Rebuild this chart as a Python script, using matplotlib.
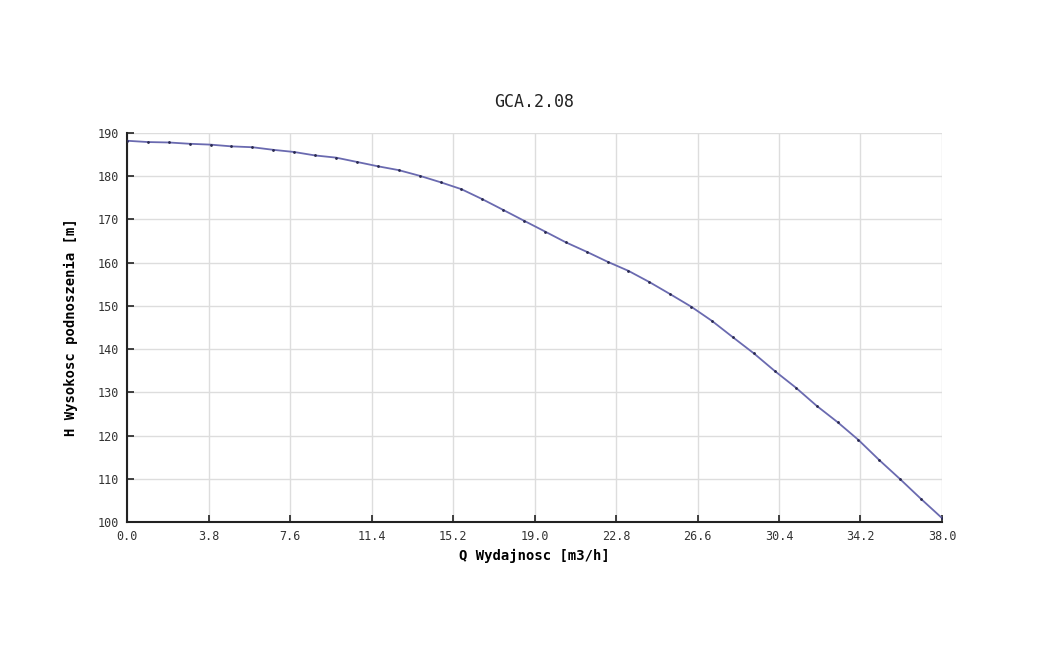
import matplotlib
matplotlib.use("Agg")
import matplotlib.pyplot as plt

q = [0.0, 0.97, 1.95, 2.92, 3.9, 4.87, 5.85, 6.82, 7.79, 8.77,
     9.74, 10.72, 11.69, 12.67, 13.64, 14.62, 15.59, 16.56, 17.54, 18.51,
     19.49, 20.46, 21.44, 22.41, 23.38, 24.36, 25.33, 26.31, 27.28, 28.26,
     29.23, 30.21, 31.18, 32.15, 33.13, 34.1, 35.08, 36.05, 37.03, 38.0]
h = [188.2, 187.9, 187.8, 187.5, 187.3, 186.9, 186.7, 186.1, 185.6, 184.8,
     184.3, 183.3, 182.3, 181.4, 180.1, 178.6, 177.0, 174.7, 172.2, 169.7,
     167.2, 164.7, 162.5, 160.2, 158.1, 155.5, 152.7, 149.8, 146.5, 142.7,
     139.0, 134.9, 131.1, 126.9, 123.1, 119.0, 114.3, 109.9, 105.3, 100.9]

xticks = [0.0, 3.8, 7.6, 11.4, 15.2, 19.0, 22.8, 26.6, 30.4, 34.2, 38.0]
yticks = [100, 110, 120, 130, 140, 150, 160, 170, 180, 190]

plt.rcParams['font.family'] = ['DejaVu Sans Mono']

fig = plt.figure(figsize=(10.62, 6.56), dpi=100)
ax = fig.add_axes([0.1196, 0.2043, 0.7674, 0.593])

ax.plot(q, h, color="#6a6ab0", linewidth=1.3, zorder=3)
ax.plot(q, h, linestyle="none", marker="o", markersize=1.0, color="#2a2a50", zorder=4)

ax.set_xlim(0, 38)
ax.set_ylim(100, 190)
ax.set_xticks(xticks)
ax.set_xticklabels([f"{v:.1f}" for v in xticks])
ax.set_yticks(yticks)
ax.grid(True, color="#dddddd", linewidth=1)
ax.set_axisbelow(True)

for s in ["top", "right"]:
    ax.spines[s].set_visible(False)
ax.spines["left"].set_color("#222222")
ax.spines["bottom"].set_color("#222222")
ax.spines["left"].set_linewidth(1.5)
ax.spines["bottom"].set_linewidth(1.5)
ax.tick_params(direction="in", length=5, width=1.2, labelsize=8.5, colors="#222222", pad=6)
for lab in ax.get_xticklabels() + ax.get_yticklabels():
    lab.set_color("#333333")

ax.set_title("GCA.2.08", fontsize=12, pad=19, color="#222222")
ax.set_xlabel("Q Wydajnosc [m3/h]", fontsize=10, fontweight="bold", labelpad=4)
ax.set_ylabel("H Wysokosc podnoszenia [m]", fontsize=10, fontweight="bold", labelpad=14)

fig.savefig("out.png", dpi=100, facecolor="white")
